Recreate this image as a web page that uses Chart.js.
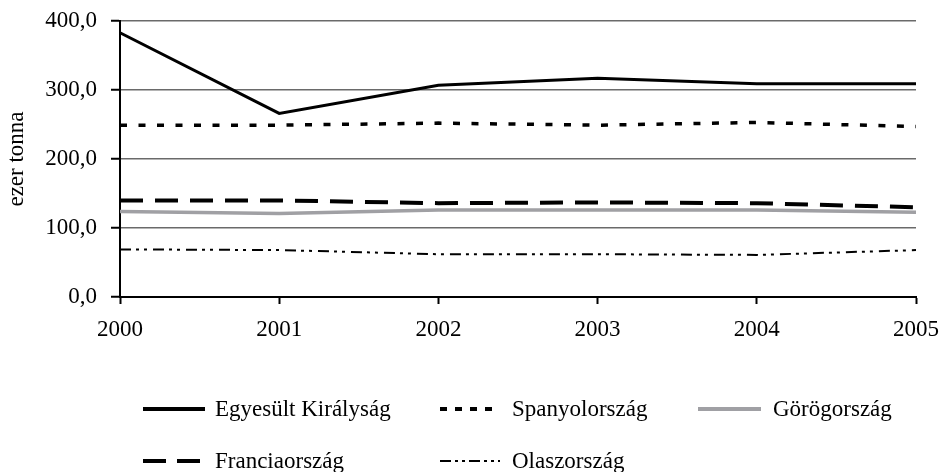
<!DOCTYPE html>
<html>
<head>
<meta charset="utf-8">
<script src="https://cdn.jsdelivr.net/npm/chart.js@4"></script>
<style>
  html, body { margin: 0; padding: 0; background: #fff; }
  #wrap { position: relative; width: 945px; height: 472px; }
  .lg { position: absolute; font-family: "Liberation Serif", "Times New Roman", serif; font-size: 23px; color: #000; white-space: nowrap; line-height: 26px; }
  .sw { position: absolute; }
</style>
</head>
<body>
<div id="wrap">
  <canvas id="c" width="945" height="472"></canvas>
</div>
<script>
const years = ['2000', '2001', '2002', '2003', '2004', '2005'];
const seriesNames = ['Egyesült Királyság', 'Spanyolország', 'Görögország', 'Franciaország', 'Olaszország'];
const ukValues     = [383, 266, 307, 317, 309, 309];
const spainValues  = [249, 249, 252, 249, 253, 247];
const greeceValues = [124, 121, 126, 126, 126, 123];
const franceValues = [140, 140, 136, 137, 136, 130];
const italyValues  = [69, 68, 62, 62, 61, 68];
const yTicks = [0, 100, 200, 300, 400];
const yTitle = 'ezer tonna';

const styles = [
  { color: '#000', width: 3, dash: [] },
  { color: '#000', width: 3.5, dash: [7, 11.5] },
  { color: '#a0a0a4', width: 3.5, dash: [] },
  { color: '#000', width: 4, dash: [23, 12] },
  { color: '#000', width: 2, dash: [11, 5, 3, 5, 3, 6] }
];
const allValues = [ukValues, spainValues, greeceValues, franceValues, italyValues];
const drawOrder = [5, 4, 1, 3, 2]; // higher drawn first

const FONT = '"Liberation Serif", "Times New Roman", serif';
const FS = 23;

const datasets = allValues.map((vals, i) => ({
  label: seriesNames[i],
  data: vals,
  order: drawOrder[i],
  borderColor: styles[i].color,
  borderWidth: styles[i].width,
  borderDash: styles[i].dash,
  pointRadius: 0,
  tension: 0,
  fill: false,
  borderCapStyle: 'butt'
}));

new Chart(document.getElementById('c'), {
  type: 'line',
  data: { labels: years, datasets: datasets },
  options: {
    responsive: false,
    animation: false,
    layout: { padding: { top: 21, right: 29, left: 0, bottom: 0 } },
    plugins: { legend: { display: false }, tooltip: { enabled: false } },
    scales: {
      x: {
        offset: false,
        grid: { drawOnChartArea: false, drawTicks: true, tickLength: 7, tickColor: '#000', tickWidth: 2 },
        border: { color: '#000', width: 2 },
        ticks: { color: '#000', font: { family: FONT, size: FS }, padding: 12, maxRotation: 0, autoSkip: false },
        afterFit: s => { s.height = 175; s.paddingLeft = 0; s.paddingRight = 0; }
      },
      y: {
        min: 0, max: 400,
        afterBuildTicks: s => { s.ticks = yTicks.map(v => ({ value: v })); },
        grid: { color: '#6a6a6a', lineWidth: 1.5, tickLength: 9, tickColor: '#000', tickWidth: 2 },
        border: { color: '#000', width: 2 },
        ticks: {
          color: '#000', font: { family: FONT, size: FS }, padding: 14,
          callback: v => Number(v).toFixed(1).replace('.', ',')
        },
        title: { display: true, text: yTitle, color: '#000', font: { family: FONT, size: FS }, padding: { top: 3, bottom: 0 } },
        afterFit: s => { s.width = 120; s.paddingTop = 0; s.paddingBottom = 0; }
      }
    }
  }
});

// HTML legend
const legendPos = [
  { x: 143, y: 409, w: 62, tx: 215 },
  { x: 440, y: 409, w: 60, tx: 512 },
  { x: 698, y: 409, w: 63, tx: 773 },
  { x: 143, y: 461, w: 59, tx: 215 },
  { x: 440, y: 461, w: 60, tx: 512 }
];
const legendDash = [[], [7, 8], [], [23, 11], [11, 4, 3, 4, 3, 4]];
const wrap = document.getElementById('wrap');
legendPos.forEach((p, i) => {
  const svgNS = 'http://www.w3.org/2000/svg';
  const svg = document.createElementNS(svgNS, 'svg');
  svg.setAttribute('class', 'sw');
  svg.setAttribute('width', p.w);
  svg.setAttribute('height', 10);
  svg.style.left = p.x + 'px';
  svg.style.top = (p.y - 5) + 'px';
  const ln = document.createElementNS(svgNS, 'line');
  ln.setAttribute('x1', 0); ln.setAttribute('x2', p.w);
  ln.setAttribute('y1', 5); ln.setAttribute('y2', 5);
  ln.setAttribute('stroke', styles[i].color);
  ln.setAttribute('stroke-width', i === 4 ? 2 : 4);
  if (legendDash[i].length) ln.setAttribute('stroke-dasharray', legendDash[i].join(' '));
  svg.appendChild(ln);
  wrap.appendChild(svg);
  const t = document.createElement('div');
  t.className = 'lg';
  t.textContent = seriesNames[i];
  t.style.left = p.tx + 'px';
  t.style.top = (p.y - 13) + 'px';
  wrap.appendChild(t);
});
</script>
</body>
</html>
